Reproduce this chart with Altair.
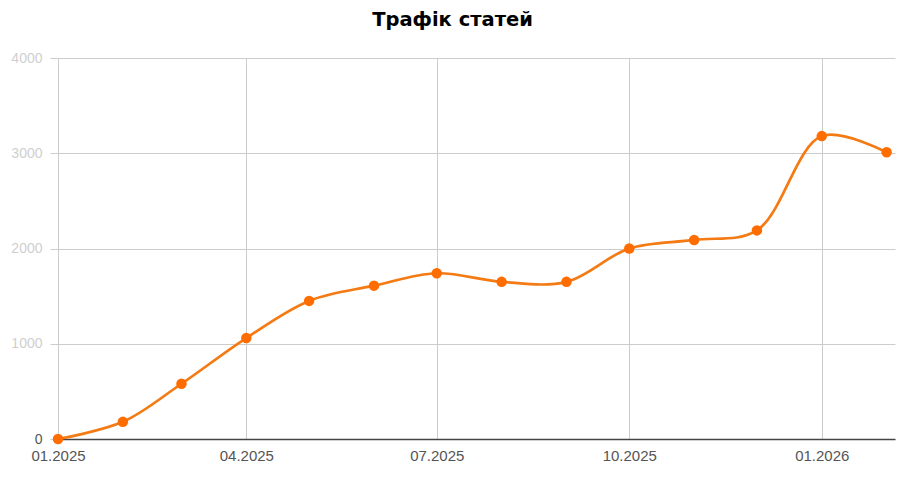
import altair as alt
import pandas as pd

months = ["2025-01-01", "2025-02-01", "2025-03-01", "2025-04-01", "2025-05-01",
          "2025-06-01", "2025-07-01", "2025-08-01", "2025-09-01", "2025-10-01",
          "2025-11-01", "2025-12-01", "2026-01-01", "2026-02-01"]
views = [0, 180, 580, 1060, 1450, 1610, 1740, 1650, 1650, 2000, 2090, 2190, 3180, 3010]
y_ticks = [0, 1000, 2000, 3000, 4000]

df = pd.DataFrame({"date": months, "views": views})

x_vals = [alt.DateTime(year=2025, month=1, date=1, utc=True),
          alt.DateTime(year=2025, month=4, date=1, utc=True),
          alt.DateTime(year=2025, month=7, date=1, utc=True),
          alt.DateTime(year=2025, month=10, date=1, utc=True),
          alt.DateTime(year=2026, month=1, date=1, utc=True)]

x = alt.X("date:T", title=None,
          scale=alt.Scale(type="utc",
                          domain=[alt.DateTime(year=2025, month=1, date=1, utc=True),
                                  alt.DateTime(year=2026, month=2, date=5, utc=True)]),
          axis=alt.Axis(values=x_vals, labelExpr="utcFormat(datum.value, '%m.%Y')",
                        grid=True, gridColor="#cccccc", gridWidth=1,
                        ticks=False, labelPadding=9,
                        domainColor="#444444", domainWidth=1.5,
                        labelFont="Liberation Sans", labelFontSize=15,
                        labelColor="#555555", labelFlush=False))
y = alt.Y("views:Q", title=None,
          scale=alt.Scale(domain=[0, 4000], nice=False),
          axis=alt.Axis(values=y_ticks, format="d", grid=True, gridColor="#cccccc", gridWidth=1,
                        tickColor="#cccccc", tickSize=8, domain=False,
                        labelPadding=8, labelFont="Liberation Sans", labelFontSize=14,
                        labelColor={"expr": "datum.value == 0 ? '#555555' : '#cfcfcf'"}))

line = alt.Chart(df).mark_line(interpolate="catmull-rom", color="#f47a14",
                               strokeWidth=2.7).encode(x=x, y=y)
pts = alt.Chart(df).mark_circle(color="#ff6d00", opacity=1, size=110).encode(x=x, y=y)

chart = (line + pts).properties(
    width=837, height=381,
    autosize=alt.AutoSizeParams(type="none"),
    padding={"left": 58, "top": 58, "right": 11, "bottom": 38},
    title=alt.TitleParams("Трафік статей", anchor="middle", font="DejaVu Sans",
                          fontSize=19.5, fontWeight="bold", color="#000000",
                          baseline="alphabetic", offset=6, dx=-24),
).configure_view(stroke=None)

chart.save("out.html", embed_options={"renderer": "svg", "actions": False})
